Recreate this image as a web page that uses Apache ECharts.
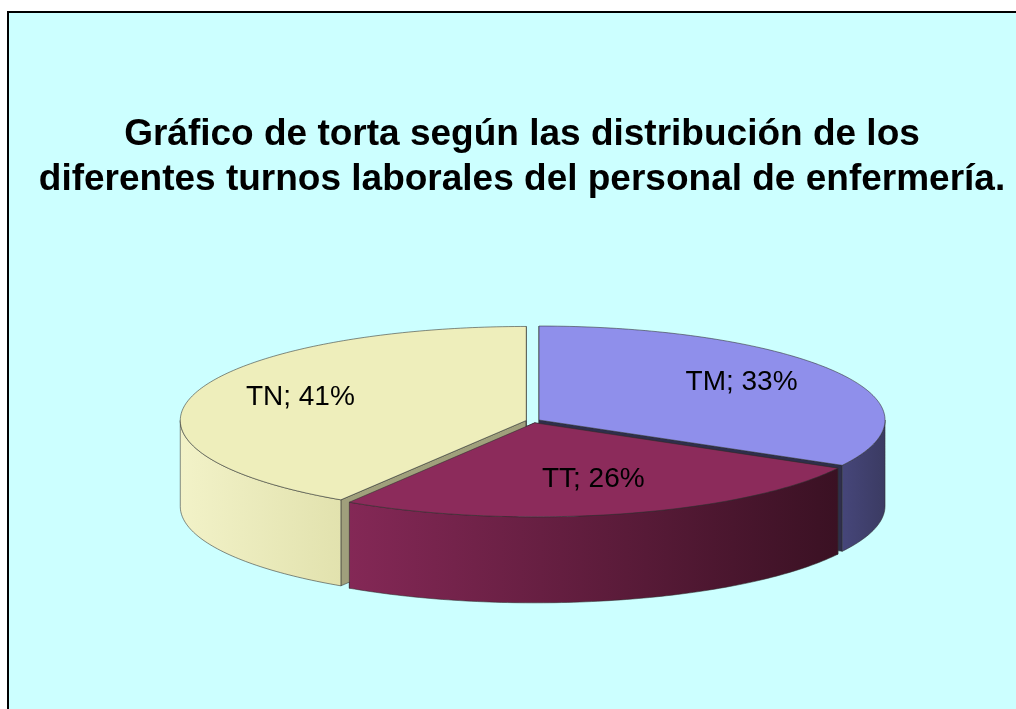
<!DOCTYPE html>
<html>
<head>
<meta charset="utf-8">
<script src="https://cdn.jsdelivr.net/npm/echarts@6/dist/echarts.min.js"></script>
<style>
  html, body { margin: 0; padding: 0; background: #fff; }
  #chart { width: 1016px; height: 709px; }
</style>
</head>
<body>
<div id="chart"></div>
<script>
// data
const titleLines = [
  "Gráfico de torta según las distribución de los",
  "diferentes turnos laborales del personal de enfermería."
];
const categories = ["TM", "TT", "TN"];
const shares = [33, 26, 41];

// look of the 3D pie
const topColors = ["#8f8feb", "#8c2b5b", "#eeeebb"];
const sideColors = [
  ["#46467a", "#3b3b62"],
  ["#842856", "#3a1123"],
  ["#f2f2c8", "#e2e2ae"]
];
const cutColors = ["#2e2e4c", "#4a1530", "#a0a07c"];
const FONT = "'Liberation Sans', Arial, sans-serif";

const cx = 533, cy = 421;   // pie centre (top face)
const rx = 346, ry = 94;    // ellipse radii
const depth = 86;           // thickness
const explode = 7;

const total = shares.reduce((a, b) => a + b, 0);
const starts = [];
shares.reduce((acc, v) => { starts.push(acc); return acc + v; }, 0);

// angle in degrees, clockwise from 12 o'clock
function pt(x0, y0, deg, f) {
  const r = deg * Math.PI / 180;
  return [x0 + rx * f * Math.sin(r), y0 - ry * f * Math.cos(r)];
}

function arcPoints(x0, y0, from, to) {
  const n = Math.max(2, Math.ceil(to - from));
  const pts = [];
  for (let k = 0; k <= n; k++) {
    pts.push(pt(x0, y0, from + (to - from) * k / n, 1));
  }
  return pts;
}

function renderSlice(params, api) {
  const i = params.dataIndex;
  const v = api.value(0);
  const a0 = starts[i] / total * 360;
  const a1 = (starts[i] + v) / total * 360;
  const mid = (a0 + a1) / 2;
  const m = mid * Math.PI / 180;
  const ox = cx + explode * Math.sin(m);
  const oy = cy - explode * (ry / rx) * Math.cos(m);
  const edge = "rgba(45,45,45,0.55)";
  const children = [];

  // cut faces
  [a0, a1].forEach(function (a) {
    const p = pt(ox, oy, a, 1);
    children.push({
      type: "polygon",
      z2: 0,
      shape: { points: [[ox, oy], p, [p[0], p[1] + depth], [ox, oy + depth]] },
      style: { fill: cutColors[i], stroke: edge, lineWidth: 1 }
    });
  });

  // outer wall (front half only)
  const w0 = Math.max(a0, 90), w1 = Math.min(a1, 270);
  if (w1 > w0) {
    const upper = arcPoints(ox, oy, w0, w1);
    const lower = arcPoints(ox, oy + depth, w0, w1).reverse();
    children.push({
      type: "polygon",
      z2: 1,
      shape: { points: upper.concat(lower) },
      style: {
        fill: new echarts.graphic.LinearGradient(0, 0, 1, 0, [
          { offset: 0, color: sideColors[i][0] },
          { offset: 1, color: sideColors[i][1] }
        ]),
        stroke: edge,
        lineWidth: 1
      }
    });
  }

  // top face
  children.push({
    type: "polygon",
    z2: 2,
    shape: { points: [[ox, oy]].concat(arcPoints(ox, oy, a0, a1)) },
    style: { fill: topColors[i], stroke: edge, lineWidth: 1 }
  });

  // label
  const lp = pt(ox, oy, mid, 0.68);
  children.push({
    type: "text",
    z2: 3,
    x: lp[0],
    y: lp[1] - 5,
    style: {
      text: categories[i] + "; " + v + "%",
      fontSize: 28,
      fontFamily: FONT,
      fill: "#000",
      align: "center",
      verticalAlign: "middle"
    }
  });

  return { type: "group", children: children };
}

const chart = echarts.init(document.getElementById("chart"));
chart.setOption({
  backgroundColor: "#ffffff",
  animation: false,
  graphic: [
    {
      type: "rect",
      z: -10,
      shape: { x: 8, y: 12, width: 1100, height: 800 },
      style: { fill: "#ccffff", stroke: "#000", lineWidth: 2 }
    },
    {
      type: "text",
      x: 522, y: 135,
      style: { text: titleLines[0], fontSize: 37, fontWeight: "bold", fontFamily: FONT,
               fill: "#000", align: "center", verticalAlign: "middle" }
    },
    {
      type: "text",
      x: 522, y: 180,
      style: { text: titleLines[1], fontSize: 37, fontWeight: "bold", fontFamily: FONT,
               fill: "#000", align: "center", verticalAlign: "middle" }
    }
  ],
  series: [
    {
      type: "custom",
      coordinateSystem: "none",
      silent: true,
      renderItem: renderSlice,
      data: shares.map((v, i) => ({ name: categories[i], value: v }))
    }
  ]
});
</script>
</body>
</html>
